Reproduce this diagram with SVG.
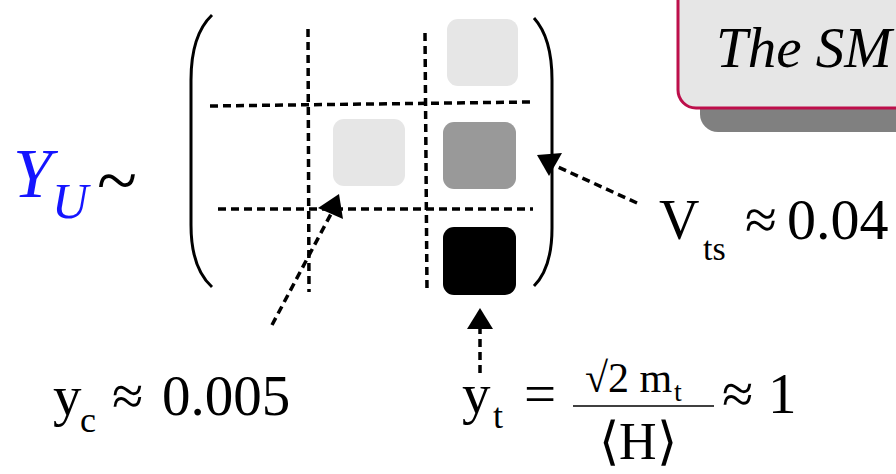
<svg xmlns="http://www.w3.org/2000/svg" width="896" height="474" viewBox="0 0 896 474">
<style>
text{font-family:"Liberation Serif","Times New Roman",serif;fill:#000}
.it{font-style:italic}
.blue{fill:#1515ff}
.dash{stroke:#000;stroke-width:3.5;stroke-dasharray:8 5;fill:none}
.paren{stroke:#000;stroke-width:3;fill:none}
.sq{stroke:none}
</style>
<rect width="896" height="474" fill="#fff"/>
<g id="sm-box">
<rect x="700" y="-30" width="260" height="162" rx="18" fill="#808080"/>
<rect x="678" y="-30" width="260" height="138" rx="18" fill="#e6e6e6" stroke="#bd0f4b" stroke-width="3"/>
<text class="it" x="716" y="67" font-size="57">The SM</text>
</g>
<g id="yu-label">
<text class="it blue" x="13" y="197" font-size="70">Y</text>
<text class="it blue" x="52" y="218" font-size="50">U</text>
<text x="97" y="205" font-size="74">~</text>
</g>
<g id="matrix">
<path class="paren" d="M212,15 Q191,35 191,80 L191,225 Q191,268 212,287"/>
<path class="paren" d="M534,18 Q552,38 552,80 L552,228 Q552,268 534,286"/>
<rect class="sq" x="447" y="19" width="71" height="67" rx="11" fill="#e6e6e6"/>
<rect class="sq" x="333" y="119" width="72" height="67" rx="11" fill="#e6e6e6"/>
<rect class="sq" x="443" y="122" width="73" height="67" rx="11" fill="#999999"/>
<rect class="sq" x="443" y="227" width="73" height="68" rx="11" fill="#000000"/>
</g>
<g id="grid">
<line class="dash" x1="308" y1="29" x2="309" y2="292"/>
<line class="dash" x1="425" y1="33" x2="427" y2="292"/>
<line class="dash" x1="210" y1="106" x2="530" y2="102"/>
<line class="dash" x1="218" y1="209" x2="533" y2="209"/>
</g>
<g id="connectors">
<line class="dash" x1="637" y1="203" x2="558" y2="167"/>
<polygon points="537,155 562,153 549,176" fill="#000"/>
<line class="dash" x1="272" y1="325" x2="332" y2="212"/>
<polygon points="318,208 339,194 343,219" fill="#000"/>
<line class="dash" x1="480" y1="373" x2="480" y2="328"/>
<polygon points="480,308 467,329 493,329" fill="#000"/>
</g>
<g id="vts-label">
<text x="659" y="239" font-size="56">V</text>
<text x="703" y="260" font-size="34">ts</text>
<text x="745" y="239" font-size="58">≈</text>
<text x="787" y="239" font-size="58">0.04</text>
</g>
<g id="yc-label">
<text x="53" y="415" font-size="57">y</text>
<text x="80" y="432" font-size="36">c</text>
<text x="112" y="415" font-size="57">≈</text>
<text x="162" y="415" font-size="57">0.005</text>
</g>
<g id="yt-label">
<text x="462" y="413" font-size="57">y</text>
<text x="493" y="428" font-size="36">t</text>
<text x="524" y="413" font-size="57">=</text>
<text x="585" y="392" font-size="42">√2 m</text>
<text x="674" y="401" font-size="28">t</text>
<line x1="573" y1="406" x2="714" y2="406" stroke="#000" stroke-width="1.5"/>
<text x="599" y="459" font-size="52">⟨H⟩</text>
<text x="722" y="413" font-size="57">≈</text>
<text x="768" y="413" font-size="57">1</text>
</g>
</svg>
